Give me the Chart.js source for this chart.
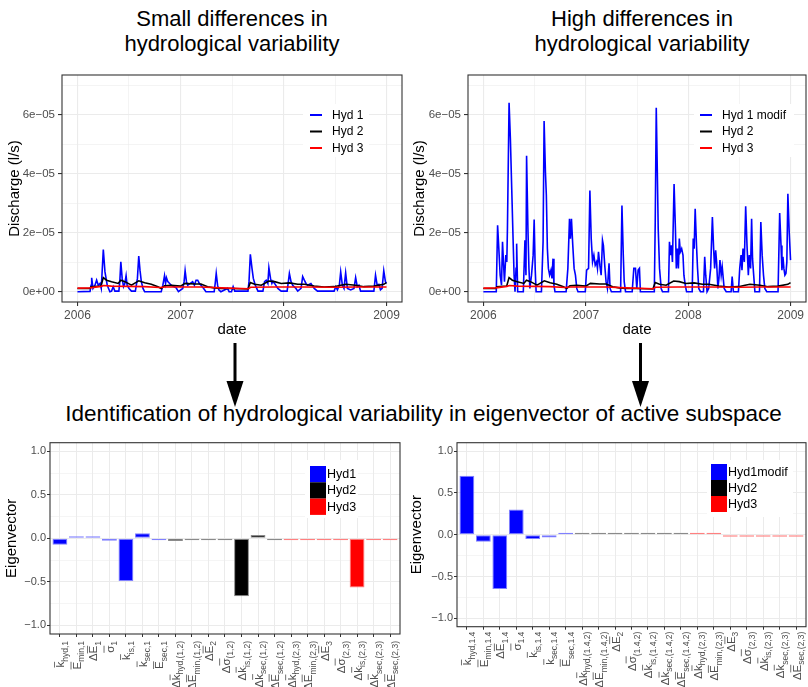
<!DOCTYPE html>
<html><head><meta charset="utf-8">
<script src="https://cdn.jsdelivr.net/npm/chart.js@4/dist/chart.umd.min.js"></script>
<style>
html,body{margin:0;padding:0;background:#fff;}
#wrap{position:relative;width:808px;height:687px;overflow:hidden;font-family:"Liberation Sans",Arial,Helvetica,sans-serif;}
.t{position:absolute;font-size:22px;line-height:25px;text-align:center;color:#000;white-space:nowrap;}
canvas{position:absolute;}
</style></head><body>
<div id="wrap">
<div class="t" style="left:82px;top:6px;width:300px">Small differences in<br>hydrological variability</div>
<div class="t" style="left:492px;top:6px;width:300px">High differences in<br>hydrological variability</div>
<div class="t" style="left:0;top:401px;width:847px;font-size:22.5px;line-height:26px">Identification of hydrological variability in eigenvector of active subspace</div>
<svg style="position:absolute;left:0;top:0" width="808" height="687">
<rect x="233.5" y="343" width="3" height="40" fill="#000"/>
<polygon points="226.5,381 243.5,381 235,407" fill="#000"/>
<rect x="639" y="343" width="3" height="40" fill="#000"/>
<polygon points="632,381 649,381 640.5,407" fill="#000"/>
</svg>
<canvas id="c1" width="410" height="280" style="left:0;top:60px"></canvas>
<canvas id="c2" width="403" height="280" style="left:405px;top:60px"></canvas>
<canvas id="c3" width="405" height="252" style="left:0;top:435px"></canvas>
<canvas id="c4" width="403" height="252" style="left:405px;top:435px"></canvas>
</div>
<script>
// ---------- DATA (discharge in 1e-6 l/s, dates in decimal years) ----------
const hyd1Dates = [2006.000,2006.122,2006.132,2006.138,2006.151,2006.170,2006.186,2006.202,2006.219,2006.231,
2006.251,2006.267,2006.289,2006.315,2006.331,2006.347,2006.363,2006.402,2006.411,2006.421,
2006.434,2006.447,2006.460,2006.472,2006.482,2006.501,2006.524,2006.562,2006.582,2006.595,
2006.607,2006.620,2006.636,2006.652,2006.813,2006.829,2006.845,2006.855,2006.864,2006.877,
2006.910,2006.958,2006.980,2007.022,2007.035,2007.045,2007.058,2007.070,2007.096,2007.118,
2007.135,2007.151,2007.167,2007.183,2007.199,2007.225,2007.247,2007.327,2007.337,2007.347,
2007.360,2007.372,2007.392,2007.456,2007.472,2007.495,2007.511,2007.527,2007.655,2007.665,
2007.678,2007.694,2007.707,2007.726,2007.752,2007.800,2007.816,2007.832,2007.848,2007.858,
2007.874,2007.887,2007.897,2007.913,2007.945,2007.977,2008.035,2008.047,2008.057,2008.073,
2008.089,2008.121,2008.138,2008.170,2008.186,2008.202,2008.218,2008.234,2008.266,2008.298,
2008.330,2008.491,2008.507,2008.523,2008.542,2008.555,2008.571,2008.587,2008.603,2008.620,
2008.652,2008.684,2008.700,2008.716,2008.732,2008.748,2008.877,2008.893,2008.909,2008.925,
2008.941,2008.957,2008.973,2008.989,2008.999];
const hyd1Values = [0,0.1,2.2,4.7,1.1,2.2,3.9,2.2,2.8,1.1,
14.3,6.7,2.2,0,0.2,1.7,0.2,0.2,3.4,10.1,
4.5,1.7,2.8,5.4,2.2,1.1,0.2,0.2,4.5,12.1,
7.3,3.4,1.1,0,0,2.2,5.4,2.8,4.7,3.4,
2.2,1.3,0,1.1,3.4,7.1,3.4,2.2,2.8,3.4,
2.2,3.9,3.9,2.8,2.2,1.1,0,0,2.8,6.2,
2.2,0.6,0,1.1,0,0,1.7,0.2,0.2,3.4,
12.7,7.9,4.5,2.2,0.2,0.2,3.4,3.9,2.8,8.1,
4.5,2.8,3.6,2.8,1.1,0.2,0.2,3.4,6.2,3.4,
2.2,1.1,0.2,1.1,5.1,3.9,2.8,2.2,2.8,1.1,
0.2,0.2,1.7,0.6,2.2,6.7,2.2,1.1,6.4,1.1,
0.6,1.1,4.8,1.7,2.2,0.2,0.2,5.6,2.2,2.5,
0.6,1.1,7.1,3.4,2.8];

const hyd1ModDates = [2006.000,2006.126,2006.139,2006.151,2006.164,2006.177,2006.187,2006.196,2006.206,2006.219,
2006.229,2006.235,2006.251,2006.264,2006.277,2006.290,2006.300,2006.309,2006.319,2006.325,
2006.335,2006.390,2006.406,2006.416,2006.422,2006.435,2006.445,2006.454,2006.470,2006.486,
2006.496,2006.506,2006.515,2006.567,2006.583,2006.593,2006.606,2006.615,2006.625,2006.635,
2006.647,2006.660,2006.670,2006.680,2006.689,2006.699,2006.808,2006.825,2006.841,2006.850,
2006.860,2006.873,2006.886,2006.899,2006.912,2006.924,2006.995,2007.008,2007.027,2007.040,
2007.053,2007.066,2007.079,2007.092,2007.105,2007.114,2007.124,2007.137,2007.150,2007.163,
2007.172,2007.185,2007.198,2007.211,2007.227,2007.237,2007.250,2007.340,2007.353,2007.366,
2007.375,2007.388,2007.453,2007.469,2007.485,2007.498,2007.511,2007.524,2007.533,2007.669,
2007.678,2007.688,2007.698,2007.707,2007.720,2007.736,2007.749,2007.807,2007.817,2007.826,
2007.836,2007.846,2007.862,2007.875,2007.884,2007.894,2007.904,2007.913,2007.923,2007.936,
2007.949,2007.958,2007.971,2007.984,2008.039,2008.049,2008.058,2008.068,2008.081,2008.091,
2008.103,2008.120,2008.149,2008.161,2008.171,2008.184,2008.200,2008.219,2008.236,2008.248,
2008.258,2008.268,2008.277,2008.290,2008.300,2008.310,2008.322,2008.332,2008.342,2008.351,
2008.371,2008.419,2008.429,2008.441,2008.490,2008.503,2008.516,2008.525,2008.535,2008.548,
2008.561,2008.574,2008.587,2008.596,2008.609,2008.619,2008.628,2008.638,2008.651,2008.696,
2008.709,2008.722,2008.735,2008.748,2008.767,2008.877,2008.893,2008.906,2008.915,2008.925,
2008.934,2008.944,2008.954,2008.963,2008.973,2008.986,2008.999];
const hyd1ModValues = [0,0,22.5,14.6,5.6,2.2,16.9,10.1,3.4,12.4,
10.1,21.4,64.1,51.7,34.8,18.0,5.6,0,7.9,16.3,
0,0,17.4,5.6,46.1,21.4,7.9,1.1,5.6,12.4,
24.5,7.9,0,0,16.9,57.9,40.5,32.6,14.6,7.9,
5.6,7.3,4.5,11.2,2.2,0,0,7.9,24.7,18.0,
24.7,15.7,7.9,5.6,1.1,0,0,7.3,7.9,34.3,
18.0,10.1,12.4,9.0,10.1,7.9,13.5,9.0,5.6,17.4,
15.7,9.0,3.4,1.1,9.6,1.1,0,0,29.2,12.4,
3.4,0,0,7.9,7.9,1.1,7.3,7.9,0,0,
23.6,62.4,41.6,21.4,7.9,1.1,0,0,16.9,12.4,
15.7,10.1,36.5,21.4,7.9,14.6,7.9,18.0,13.5,14.6,
12.4,5.6,2.2,0,0,18.0,14.6,28.1,15.7,7.9,
1.1,0,0,11.8,5.6,0,1.1,7.9,25.3,14.6,
7.9,14.0,10.1,1.1,4.5,10.7,5.6,8.4,4.5,1.1,
0,0,5.1,0,0,7.9,12.4,7.3,14.6,10.1,
29.0,15.7,5.6,12.4,7.9,24.7,11.2,6.2,0,0,
23.6,12.4,5.6,1.1,0,0,26.7,15.7,7.3,11.8,
7.9,5.6,6.2,10.1,33.2,20.2,10.7];

const hyd2Dates = [2006.000,2006.122,2006.132,2006.228,2006.251,2006.283,2006.331,2006.395,2006.421,2006.460,
2006.524,2006.595,2006.652,2006.717,2006.781,2006.813,2006.845,2006.910,2007.000,2007.045,
2007.135,2007.199,2007.263,2007.327,2007.392,2007.495,2007.655,2007.678,2007.720,2007.784,
2007.858,2007.913,2007.977,2008.057,2008.138,2008.202,2008.298,2008.395,2008.491,2008.555,
2008.603,2008.700,2008.780,2008.877,2008.973,2008.999];
const hyd2Values = [1.1,1.1,1.7,1.9,4.8,3.9,3.4,2.8,3.9,3.4,
2.2,3.7,3.0,2.5,1.7,1.1,2.0,2.2,1.9,2.8,
2.6,2.6,1.7,1.3,1.1,1.1,0.9,3.1,2.5,2.2,
3.6,3.4,2.8,3.0,2.5,2.5,1.9,1.6,1.7,2.2,
2.5,2.2,1.7,1.9,2.5,3.1];

const hyd3Dates = [2006.000,2006.122,2006.230,2006.255,2006.330,2006.500,2006.650,2006.800,2006.850,2007.000,
2007.200,2007.400,2007.660,2007.680,2007.900,2008.200,2008.500,2008.700,2009.000];
const hyd3Values = [1.2,1.3,1.8,2.1,1.9,1.8,1.7,1.4,1.6,1.6,
1.6,1.3,1.0,1.5,1.6,1.6,1.5,1.6,1.6];

const timeTickValues = [2006,2006.5,2007,2007.5,2008,2008.5,2009];
const timeTickLabels = ["2006","","2007","","2008","","2009"];
const dischargeTickValues = [0,1e-5,2e-5,3e-5,4e-5,5e-5,6e-5,7e-5];
const dischargeTickLabels = ["0e+00","","2e\u221205","","4e\u221205","","6e\u221205",""];

// eigenvector panels: labels = [prefix, overlined symbol, subscript]
const eigLabelsSmall = [["","k","hyd,1"],["","E","min,1"],["\u0394","E","1"],["","\u03c3","1"],["","k","is,1"],["","k","sec,1"],["","E","sec,1"],
["\u0394","k","hyd,(1,2)"],["\u0394","E","min,(1,2)"],["\u0394","E","2"],["\u0394","\u03c3","(1,2)"],["\u0394","k","is,(1,2)"],["\u0394","k","sec,(1,2)"],["\u0394","E","sec,(1,2)"],
["\u0394","k","hyd,(2,3)"],["\u0394","E","min,(2,3)"],["\u0394","E","3"],["\u0394","\u03c3","(2,3)"],["\u0394","k","is,(2,3)"],["\u0394","k","sec,(2,3)"],["\u0394","E","sec,(2,3)"]];
const eigLabelsHigh = [["","k","hyd,1.4"],["","E","min,1.4"],["\u0394","E","1.4"],["","\u03c3","1.4"],["","k","is,1.4"],["","k","sec,1.4"],["","E","sec,1.4"],
["\u0394","k","hyd,(1.4,2)"],["\u0394","E","min,(1.4,2)"],["\u0394","E","2"],["\u0394","\u03c3","(1.4,2)"],["\u0394","k","is,(1.4,2)"],["\u0394","k","sec,(1.4,2)"],["\u0394","E","sec,(1.4,2)"],
["\u0394","k","hyd,(2,3)"],["\u0394","E","min,(2,3)"],["\u0394","E","3"],["\u0394","\u03c3","(2,3)"],["\u0394","k","is,(2,3)"],["\u0394","k","sec,(2,3)"],["\u0394","E","sec,(2,3)"]];
const eigGroups = [0,0,0,0,0,0,0,1,1,1,1,1,1,1,2,2,2,2,2,2,2];
const eigSmall = [-0.073,0.005,0.023,-0.027,-0.49,0.058,-0.023,-0.03,-0.003,-0.003,-0.01,-0.665,0.038,-0.012,-0.01,-0.005,-0.004,-0.008,-0.565,-0.006,-0.005];
const eigHigh = [0.704,-0.084,-0.648,0.30,-0.052,-0.032,0.02,0.015,0.002,0.003,0.008,0.002,0.003,0.002,0.012,0.001,-0.003,-0.003,-0.003,-0.003,-0.003];
const groupNamesSmall = ["Hyd1","Hyd2","Hyd3"];
const groupNamesHigh = ["Hyd1modif","Hyd2","Hyd3"];
const eigTickValues = [-1,-0.75,-0.5,-0.25,0,0.25,0.5,0.75,1];
const eigTickLabels = ["\u22121.0","","\u22120.5","","0.0","","0.5","","1.0"];

// ---------- STYLE ----------
const FONT = '"Liberation Sans", Arial, Helvetica, sans-serif';
Chart.defaults.font.family = FONT;
const GRID = '#ebebeb', AXIS = '#333333', TEXT = '#4d4d4d';
const COLORS = ['#0000ff','#000000','#ff0000'];
const EDGES = ['#8080ff','#8a8a8a','#ff8080'];
const CLEAR = 'rgba(0,0,0,0)';

function series(dates, vals, label, color, order){
  return {label, data: dates.map((d,i)=>({x:d, y:vals[i]*1e-6})), borderColor: color, backgroundColor: color,
    borderWidth: 1.6, pointRadius: 0, tension: 0, order, fill: false};
}

const decor = {
  id: 'decor',
  afterDatasetsDraw(chart, args, o) {
    const ctx = chart.ctx, a = chart.chartArea;
    ctx.save();
    ctx.fillStyle = '#fff'; ctx.fillRect(o.bg[0], o.bg[1], o.bg[2], o.bg[3]);
    ctx.font = o.font; ctx.textBaseline = 'middle'; ctx.textAlign = 'left';
    chart.data.datasets.forEach((ds, i) => {
      const y = o.y + i*o.dy;
      if (o.kind === 'line') {
        ctx.strokeStyle = ds.borderColor; ctx.lineWidth = 2;
        ctx.beginPath(); ctx.moveTo(o.x, y); ctx.lineTo(o.x + o.w, y); ctx.stroke();
        ctx.fillStyle = '#000'; ctx.fillText(ds.label, o.tx, y + 0.5);
      } else {
        ctx.fillStyle = ds.backgroundColor; ctx.fillRect(o.x, y, o.w, o.dy);
        ctx.fillStyle = '#000'; ctx.fillText(ds.label, o.tx, y + o.dy/2 + 0.5);
      }
    });
    ctx.strokeStyle = AXIS; ctx.lineWidth = 1.1;
    ctx.strokeRect(a.left, a.top, a.right - a.left, a.bottom - a.top);
    ctx.restore();
  }
};

const mathLabels = {
  id: 'mathLabels',
  afterDraw(chart, args, o) {
    const ctx = chart.ctx, xs = chart.scales.x;
    const y0 = chart.chartArea.bottom + o.gap;
    const mainFont = o.size + 'px ' + FONT, subFont = o.subSize + 'px ' + FONT;
    ctx.save();
    ctx.fillStyle = TEXT; ctx.strokeStyle = TEXT;
    o.labels.forEach((lab, i) => {
      const [pre, base, sub] = lab;
      ctx.font = mainFont;
      const wPre = ctx.measureText(pre).width, wBase = ctx.measureText(base).width;
      ctx.font = subFont;
      const wSub = ctx.measureText(sub).width;
      const total = wPre + wBase + wSub;
      const x = xs.getPixelForValue(i);
      ctx.save();
      ctx.translate(x + o.shift, y0);
      ctx.rotate(-Math.PI/2);
      ctx.textAlign = 'left'; ctx.textBaseline = 'alphabetic';
      let p = -total;
      ctx.font = mainFont;
      if (pre) ctx.fillText(pre, p, 0);
      p += wPre;
      ctx.fillText(base, p, 0);
      const oy = -o.size * 0.86;
      ctx.lineWidth = 0.8;
      ctx.beginPath(); ctx.moveTo(p, oy); ctx.lineTo(p + wBase, oy); ctx.stroke();
      p += wBase;
      ctx.font = subFont;
      ctx.fillText(sub, p, o.subDrop);
      ctx.restore();
    });
    ctx.restore();
  }
};

function timeChart(id, blueDates, blueVals, blueLabel, pad, yW, legend) {
  return new Chart(document.getElementById(id), {
    type: 'line',
    data: { datasets: [
      series(blueDates, blueVals, blueLabel, COLORS[0], 2),
      series(hyd2Dates, hyd2Values, 'Hyd 2', COLORS[1], 1),
      series(hyd3Dates, hyd3Values, 'Hyd 3', COLORS[2], 0)
    ]},
    options: {
      responsive: false, animation: false, devicePixelRatio: 1,
      layout: { padding: pad },
      plugins: { legend: {display: false}, tooltip: {enabled: false}, decor: legend },
      scales: {
        x: { type: 'linear', min: 2005.85, max: 2009.15,
          afterBuildTicks: s => { s.ticks = timeTickValues.map(v => ({value: v})); },
          ticks: { callback: (v, i) => timeTickLabels[i], color: TEXT, font: {size: 12}, padding: 2, autoSkip: false, maxRotation: 0 },
          grid: { color: GRID, lineWidth: c => timeTickLabels[c.index] ? 1.1 : 0.55, tickLength: 4,
                  tickColor: c => timeTickLabels[c.index] ? AXIS : CLEAR },
          border: { display: false },
          title: { display: true, text: 'date', color: '#000', font: {size: 15}, padding: {top: 0, bottom: 1} },
          afterFit: s => { s.height = 38; } },
        y: { type: 'linear', min: -3.5e-6, max: 7.35e-5,
          afterBuildTicks: s => { s.ticks = dischargeTickValues.map(v => ({value: v})); },
          ticks: { callback: (v, i) => dischargeTickLabels[i], color: TEXT, font: {size: 11.5}, padding: 3, autoSkip: false },
          grid: { color: GRID, lineWidth: c => dischargeTickLabels[c.index] ? 1.1 : 0.55, tickLength: 4,
                  tickColor: c => dischargeTickLabels[c.index] ? AXIS : CLEAR },
          border: { display: false },
          title: { display: true, text: 'Discharge (l/s)', color: '#000', font: {size: 15}, padding: {top: 6, bottom: 0} },
          afterFit: s => { s.width = yW; } }
      }
    },
    plugins: [decor]
  });
}

function eigChart(id, values, labels, names, pad, yW, xH, legend, lab) {
  const datasets = names.map((nm, g) => ({
    label: nm,
    data: values.map((v, i) => ({x: i, y: eigGroups[i] === g ? v : null})),
    backgroundColor: COLORS[g], borderColor: EDGES[g], borderWidth: 1, borderSkipped: false,
    minBarLength: 2, grouped: false, categoryPercentage: 0.9, barPercentage: 1
  }));
  return new Chart(document.getElementById(id), {
    type: 'bar',
    data: { datasets },
    options: {
      responsive: false, animation: false, devicePixelRatio: 1,
      layout: { padding: pad },
      plugins: { legend: {display: false}, tooltip: {enabled: false}, decor: legend,
                 mathLabels: Object.assign({labels}, lab) },
      scales: {
        x: { type: 'linear', min: -0.6, max: labels.length - 1 + 0.6, offset: false,
          afterBuildTicks: s => { s.ticks = labels.map((_, i) => ({value: i})); },
          ticks: { display: false },
          grid: { color: GRID, lineWidth: 1, tickLength: 3, tickColor: AXIS, offset: false },
          border: { display: false },
          afterFit: s => { s.height = xH; } },
        y: { type: 'linear', min: -1.1, max: 1.1,
          afterBuildTicks: s => { s.ticks = eigTickValues.map(v => ({value: v})); },
          ticks: { callback: (v, i) => eigTickLabels[i], color: TEXT, font: {size: 11}, padding: 1, autoSkip: false },
          grid: { color: GRID, lineWidth: c => eigTickLabels[c.index] ? 1 : 0.5, tickLength: 3,
                  tickColor: c => eigTickLabels[c.index] ? AXIS : CLEAR },
          border: { display: false },
          title: { display: true, text: 'Eigenvector', color: '#000', font: {size: 15}, padding: {top: 3, bottom: 0} },
          afterFit: s => { s.width = yW; } }
      }
    },
    plugins: [decor, mathLabels]
  });
}

timeChart('c1', hyd1Dates, hyd1Values, 'Hyd 1', {top: 15, right: 8, left: 0, bottom: 0}, 62,
  {kind: 'line', bg: [303, 44, 66, 53], x: 310, w: 12, tx: 332, y: 55, dy: 16.5, font: '12px ' + FONT});
timeChart('c2', hyd1ModDates, hyd1ModValues, 'Hyd 1 modif', {top: 15, right: 2, left: 0, bottom: 0}, 63,
  {kind: 'line', bg: [289, 44, 100, 53], x: 295, w: 12, tx: 317, y: 55, dy: 16.5, font: '12px ' + FONT});
eigChart('c3', eigSmall, eigLabelsSmall, groupNamesSmall, {top: 7.7, right: 5, left: 0, bottom: 0}, 50, 53,
  {kind: 'box', bg: [305, 25, 53, 58], x: 310, w: 16, tx: 327, y: 31, dy: 16.3, font: '12.5px ' + FONT},
  {gap: 7, shift: 4.5, size: 11.5, subSize: 8.5, subDrop: 3.5});
eigChart('c4', eigHigh, eigLabelsHigh, groupNamesHigh, {top: 7.7, right: 2, left: 0, bottom: 0}, 52, 60.3,
  {kind: 'box', bg: [302, 25, 86, 57], x: 306, w: 16, tx: 323, y: 29, dy: 16, font: '12.5px ' + FONT},
  {gap: 5, shift: 4.5, size: 11.5, subSize: 8.5, subDrop: 3.5});
</script>
</body></html>
